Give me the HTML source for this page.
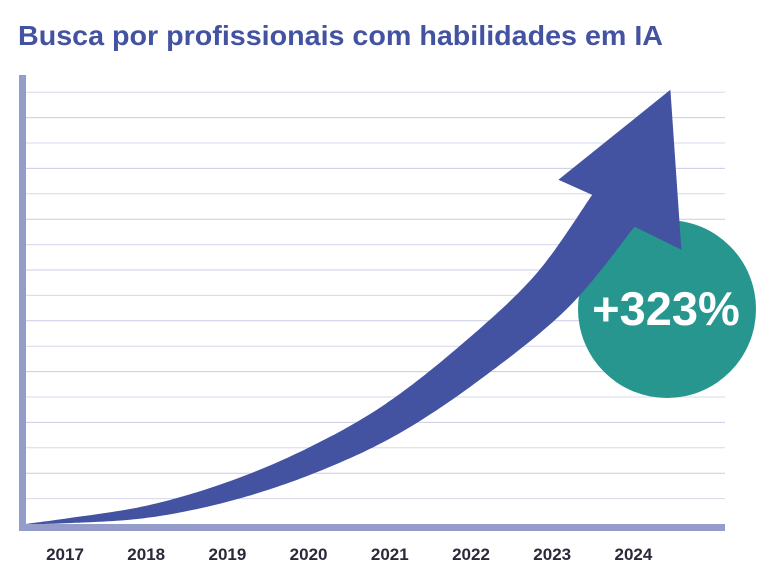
<!DOCTYPE html>
<html><head><meta charset="utf-8"><style>
body{margin:0;background:#fff;width:775px;height:576px;overflow:hidden;font-family:"Liberation Sans",sans-serif}
</style></head><body>
<svg id="chart" width="775" height="576" viewBox="0 0 775 576" xmlns="http://www.w3.org/2000/svg">
<text x="18" y="45" font-family="Liberation Sans, sans-serif" font-weight="bold" font-size="27.5" fill="#4353a1" textLength="645" lengthAdjust="spacingAndGlyphs">Busca por profissionais com habilidades em IA</text>
<g id="grid"></g>
<g id="xlabels"></g>
<circle cx="667" cy="309" r="89" fill="#26968f"/>
<text x="666" y="325" text-anchor="middle" font-family="Liberation Sans, sans-serif" font-weight="bold" font-size="47" fill="#fff">+323%</text>
<path id="arrow" fill="#4353a1"/>
<rect x="19" y="75" width="7" height="456" fill="#949dc9"/>
<rect x="19" y="524" width="706" height="7" fill="#949dc9"/>
</svg>
<script>
const years = ["2017","2018","2019","2020","2021","2022","2023","2024"];
const values = [0.7, 2.8, 7.4, 14.4, 24, 37.5, 54, 72.5];
const gridTicks = [1,2,3,4,5,6,7,8,9,10,11,12,13,14,15,16,17];

const NS = "http://www.w3.org/2000/svg";
function xScale(i){ return 65 + i * 81.2; }
function yScale(v){ return 524 - v * 4.32; }
function gridY(k){ return 524 - k * 25.4; }

const grid = document.getElementById('grid');
gridTicks.forEach(k=>{
  const l = document.createElementNS(NS,'line');
  
  
  l.setAttribute('x1',26); l.setAttribute('x2',725);
  l.setAttribute('y1',gridY(k)); l.setAttribute('y2',gridY(k));
  l.setAttribute('stroke', k%2 ? '#d6d8ec' : '#c9cce6'); l.setAttribute('stroke-width',1);
  grid.appendChild(l);
});
const xl = document.getElementById('xlabels');
years.forEach((y,i)=>{
  const t = document.createElementNS(NS,'text');
  
  
  t.setAttribute('x', xScale(i)); t.setAttribute('y', 560);
  t.setAttribute('text-anchor','middle');
  t.setAttribute('font-family','Liberation Sans, sans-serif');
  t.setAttribute('font-weight','bold'); t.setAttribute('font-size','17');
  t.setAttribute('fill','#2a2a3a');
  t.textContent = y;
  xl.appendChild(t);
});

// centerline points from data
const pts = [[26, yScale(0)]];
values.forEach((v,i)=>{
  let x = xScale(i);
  if (i === values.length-1) x -= 20;
  pts.push([x, yScale(v)]);
});
// catmull-rom sample
const samp = [];
for (let i=0;i<pts.length-1;i++){
  const p0=pts[Math.max(i-1,0)], p1=pts[i], p2=pts[i+1], p3=pts[Math.min(i+2,pts.length-1)];
  for (let s=0;s<20;s++){
    const t=s/20, t2=t*t, t3=t2*t;
    const f=(a,b,c,d)=>0.5*((2*b)+(-a+c)*t+(2*a-5*b+4*c-d)*t2+(-a+3*b-3*c+d)*t3);
    samp.push([f(p0[0],p1[0],p2[0],p3[0]), f(p0[1],p1[1],p2[1],p3[1])]);
  }
}
samp.push(pts[pts.length-1]);
let len=[0];
for(let i=1;i<samp.length;i++){const dx=samp[i][0]-samp[i-1][0],dy=samp[i][1]-samp[i-1][1];len.push(len[i-1]+Math.hypot(dx,dy));}
const S = len[len.length-1];
const up=[], lo=[];
samp.forEach((p,i)=>{
  const a=samp[Math.max(i-1,0)], b=samp[Math.min(i+1,samp.length-1)];
  let dx=b[0]-a[0], dy=b[1]-a[1]; const n=Math.hypot(dx,dy)||1; dx/=n; dy/=n;
  const w = 53*Math.pow(len[i]/S,0.85)/2;
  up.push([p[0]+dy*w, p[1]-dx*w]);
  lo.push([p[0]-dy*w, p[1]+dx*w]);
});
const e = samp[samp.length-1];
// head relative to end point
const head = [[e[0]-55,e[1]-31],[e[0]+57,e[1]-121],[e[0]+68,e[1]+39]];
let d = 'M'+up.map(p=>p[0].toFixed(1)+','+p[1].toFixed(1)).join('L');
d += 'L'+head.map(p=>p[0].toFixed(1)+','+p[1].toFixed(1)).join('L');
d += 'L'+lo.slice().reverse().map(p=>p[0].toFixed(1)+','+p[1].toFixed(1)).join('L')+'Z';
document.getElementById('arrow').setAttribute('d', d);
</script>
</body></html>
